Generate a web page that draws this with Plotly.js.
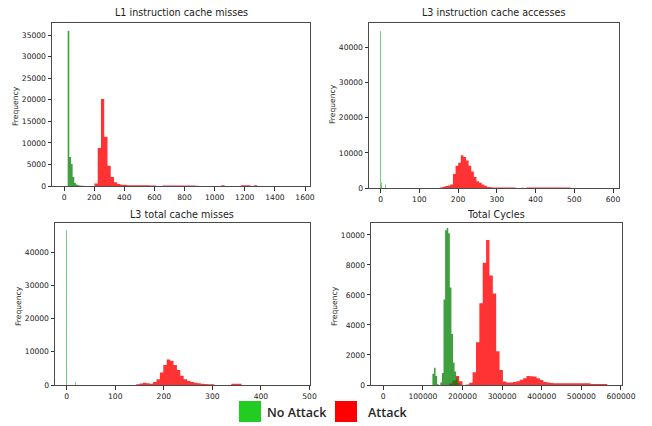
<!DOCTYPE html>
<html>
<head>
<meta charset="utf-8">
<script src="https://cdn.plot.ly/plotly-3.0.1.min.js"></script>
<style>html,body{margin:0;padding:0;background:#fff;}#chart{width:652px;height:426px;}</style>
</head>
<body>
<div id="chart"></div>
<script>
// ---------- DATA (histogram bins) ----------
const titles = ["L1 instruction cache misses", "L3 instruction cache accesses", "L3 total cache misses", "Total Cycles"];
const legendLabels = ["No Attack", "Attack"];

// L1 instruction cache misses
const l1NoAttackStart = 24, l1NoAttackWidth = 11;
const l1NoAttackCounts = [36000, 6700, 5100, 2100, 700, 350, 150, 100, 80, 60];
const l1AttackStart = 202, l1AttackWidth = 21.6;
const l1AttackCounts = [600, 8800, 20200, 11400, 4700, 2100, 850, 450, 300, 300,
  200, 150, 150, 150, 150, 150, 150, 120, 120, 0,
  0, 120, 120, 120, 120, 120, 120, 120, 120, 120,
  120, 80, 0, 0, 0, 0, 0, 0, 0, 200,
  0, 0, 0, 0, 0, 200, 200, 200, 0, 200];

// L3 instruction cache accesses
const l3aNoAttackX = [0, 2, 12];
const l3aNoAttackCounts = [44600, 1500, 1100];
const l3aNoAttackWidth = 1;
const l3aAttackStart = 153, l3aAttackWidth = 6.75;
const l3aAttackCounts = [150, 350, 550, 700, 1000, 4000, 6300, 7200, 9300, 8800,
  7800, 6300, 4700, 3100, 1900, 1500, 1000, 650, 300, 200,
  150, 150, 150, 150, 120, 120, 120, 120, 120, 0,
  0, 100, 0, 120, 120, 120, 120, 120, 120, 120,
  120, 120, 120, 120, 120, 120, 120, 120, 120, 120];

// L3 total cache misses
const l3mNoAttackX = [0, 18];
const l3mNoAttackCounts = [46700, 900];
const l3mNoAttackWidth = 1;
const l3mAttackStart = 143, l3mAttackWidth = 7;
const l3mAttackCounts = [250, 450, 700, 500, 350, 900, 1700, 3800, 6000, 7700,
  7300, 6000, 4500, 2800, 1700, 1200, 900, 700, 500, 400,
  300, 250, 200, 0, 0, 0, 0, 0, 350, 400, 350];

// Total Cycles
const tcNoAttackStart = 124000, tcNoAttackWidth = 4000;
const tcNoAttackCounts = [750, 1150, 600, 50, 0, 160, 800, 5700, 10300, 10450,
  10100, 6500, 3400, 1500, 900, 450, 100];
const tcAttackStart = 166000, tcAttackWidth = 8500;
const tcAttackCounts = [100, 300, 600, 250, 0, 40, 150, 850, 2850, 5450,
  8150, 9650, 7300, 6100, 2250, 1000, 230, 160, 160, 200,
  250, 350, 450, 600, 580, 560, 450, 340, 200, 160,
  130, 110, 110, 110, 110, 110, 110, 110, 110, 110,
  110, 110, 70, 70, 70, 70, 70];

// Axis ticks
const xTicks = [[0,200,400,600,800,1000,1200,1400,1600],[0,100,200,300,400,500,600],[0,100,200,300,400,500],[0,100000,200000,300000,400000,500000,600000]];
const yTicks = [[0,5000,10000,15000,20000,25000,30000,35000],[0,10000,20000,30000,40000],[0,10000,20000,30000,40000],[0,2000,4000,6000,8000,10000]];

// ---------- BUILD ----------
const W = 652, H = 426;
const px = v => v / W, py = v => 1 - v / H;

const RED = 'rgba(255,0,0,0.8)';
const GREEN = 'rgba(0,128,0,0.75)';
const THIN_GREEN = 'rgb(120,205,120)';

const traces = [];
// histogram drawn as a filled step outline from bin edges and counts
function addHist(start, width, counts, color, ax) {
  const x = counts.map((_, i) => start + width * i);
  x.push(start + width * counts.length);
  const y = counts.slice();
  y.push(counts[counts.length - 1]);
  traces.push({type: 'scatter', mode: 'lines', x: x, y: y, xaxis: 'x' + ax, yaxis: 'y' + ax,
    line: {shape: 'hv', width: 0, color: color}, fill: 'tozeroy', fillcolor: color,
    hoverinfo: 'skip', showlegend: false});
}
function addBars(x, y, width, color, ax) {
  traces.push({type: 'bar', x: x, y: y, width: width, xaxis: 'x' + ax, yaxis: 'y' + ax,
    marker: {color: color, line: {width: 0}}, hoverinfo: 'x+y', showlegend: false});
}
// attack drawn first, no-attack on top
addHist(l1AttackStart, l1AttackWidth, l1AttackCounts, RED, '');
addHist(l1NoAttackStart, l1NoAttackWidth, l1NoAttackCounts, GREEN, '');
addHist(l3aAttackStart, l3aAttackWidth, l3aAttackCounts, RED, '2');
addBars(l3aNoAttackX, l3aNoAttackCounts, l3aNoAttackWidth, THIN_GREEN, '2');
addHist(l3mAttackStart, l3mAttackWidth, l3mAttackCounts, RED, '3');
addBars(l3mNoAttackX, l3mNoAttackCounts, l3mNoAttackWidth, THIN_GREEN, '3');
addHist(tcAttackStart, tcAttackWidth, tcAttackCounts, RED, '4');
addHist(tcNoAttackStart, tcNoAttackWidth, tcNoAttackCounts, GREEN, '4');

const FONT = 'DejaVu Sans, sans-serif';
const tickFont = {family: FONT, size: 7.6, color: '#222'};
function axis(extra) {
  return Object.assign({
    showline: true, mirror: true, linecolor: '#4a4a4a', linewidth: 1,
    ticks: 'outside', ticklen: 3.5, tickwidth: 0.8, tickcolor: '#333',
    showgrid: false, zeroline: false, tickfont: tickFont,
    tickformat: 'd', tickmode: 'array', fixedrange: true
  }, extra);
}

// plot boxes in pixels: [left, right, top, bottom]
const boxes = [[52, 310, 23, 186], [369, 619, 23, 188], [55, 310, 223, 385], [371, 622, 223, 385]];
const xRanges = [[-80, 1633], [-30, 615.5], [-24, 501], [-31000, 602600]];
const yRanges = [[0, 37800], [0, 46980], [0, 48830], [0, 10790]];

const layout = {
  width: W, height: H, margin: {l: 0, r: 0, t: 0, b: 0},
  paper_bgcolor: '#fff', plot_bgcolor: '#fff', barmode: 'overlay', showlegend: false,
  annotations: [], shapes: []
};
boxes.forEach((b, i) => {
  const s = i === 0 ? '' : String(i + 1);
  layout['xaxis' + s] = axis({domain: [px(b[0]), px(b[1])], range: xRanges[i], anchor: 'y' + s, tickvals: xTicks[i]});
  layout['yaxis' + s] = axis({domain: [py(b[3]), py(b[2])], range: yRanges[i], anchor: 'x' + s, tickvals: yTicks[i]});
});

// subplot titles
const titlePos = [[181, 13], [494, 13], [182, 214], [496, 214]];
titles.forEach((t, i) => layout.annotations.push({
  text: t, xref: 'paper', yref: 'paper', x: px(titlePos[i][0]), y: py(titlePos[i][1]),
  xanchor: 'center', yanchor: 'middle', showarrow: false, font: {family: FONT, size: 9.6, color: '#222'}
}));
// y-axis titles
const yTitlePos = [[15, 106], [333, 104], [18, 306], [334, 306]];
yTitlePos.forEach(p => layout.annotations.push({
  text: 'Frequency', xref: 'paper', yref: 'paper', x: px(p[0]), y: py(p[1]), textangle: -90,
  xanchor: 'center', yanchor: 'middle', showarrow: false, font: {family: FONT, size: 7.6, color: '#222'}
}));

// legend
const legColors = ['#22cc22', '#ff0000'];
const legBoxX = [239, 335], legTextX = [265, 366];
legendLabels.forEach((lab, i) => {
  layout.shapes.push({type: 'rect', xref: 'paper', yref: 'paper', x0: px(legBoxX[i]), x1: px(legBoxX[i] + 22),
    y0: py(422), y1: py(401), fillcolor: legColors[i], line: {width: 0}});
  layout.annotations.push({text: lab, xref: 'paper', yref: 'paper', x: px(legTextX[i]), y: py(412),
    xanchor: 'left', yanchor: 'middle', showarrow: false, font: {family: 'Open Sans, sans-serif', size: 12.5, color: '#262626', weight: 600}});
});

Plotly.newPlot('chart', traces, layout, {displayModeBar: false, responsive: false});
</script>
</body>
</html>
